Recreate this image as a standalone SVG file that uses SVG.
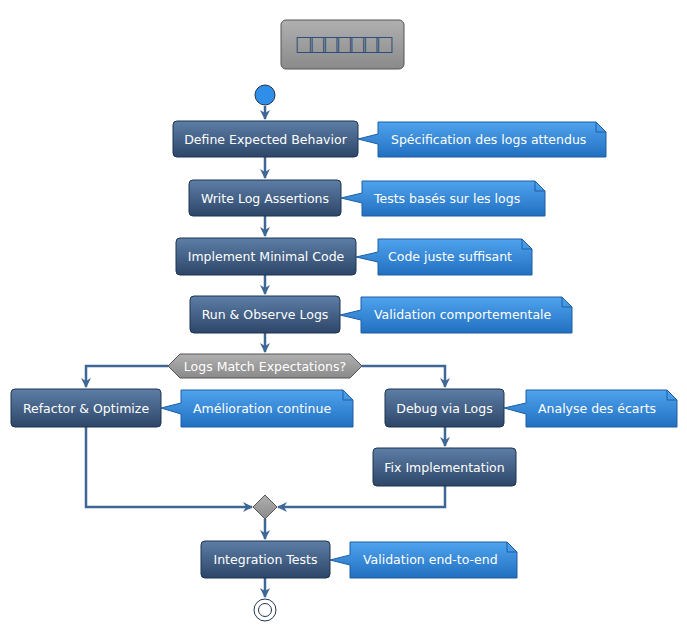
<svg xmlns="http://www.w3.org/2000/svg" width="687" height="633" viewBox="0 0 687 633">
<defs>
<linearGradient id="gb" x1="0" y1="0" x2="0" y2="1"><stop offset="0" stop-color="#5d7ea6"/><stop offset="1" stop-color="#2d4668"/></linearGradient>
<linearGradient id="gn" x1="0" y1="0" x2="0" y2="1"><stop offset="0" stop-color="#4fa3ee"/><stop offset="1" stop-color="#2170c0"/></linearGradient>
<linearGradient id="gg" x1="0" y1="0" x2="0" y2="1"><stop offset="0" stop-color="#b0b0b0"/><stop offset="1" stop-color="#8a8a8a"/></linearGradient>
<marker id="ar" viewBox="0 0 10 10" refX="9" refY="5" markerWidth="10" markerHeight="10" markerUnits="userSpaceOnUse" orient="auto"><path d="M0,0 L10,5 L0,10 L3,5 z" fill="#3f6796"/></marker>
<style>
.b{fill:url(#gb);stroke:#1f3550;stroke-width:1}
.n{fill:url(#gn);stroke:#1d5ea3;stroke-width:1}
.t{font-family:"DejaVu Sans",Verdana,sans-serif;font-size:12.5px;fill:#fff;text-anchor:middle}
.tn{font-family:"DejaVu Sans",Verdana,sans-serif;font-size:12.5px;fill:#fff}
.l{fill:none;stroke:#3f6796;stroke-width:2.5}
</style>
</defs>
<g id="title"><rect x="281" y="20" width="123" height="49" rx="5" fill="url(#gg)" stroke="#555"/><text x="343" y="53" font-family="'Liberation Sans',sans-serif" font-size="27" fill="#2f4f7a" text-anchor="middle" letter-spacing="-3">□□□□□□□</text></g>
<g id="connectors">
<path class="l" d="M265,106 V119" marker-end="url(#ar)"/>
<path class="l" d="M265,157 V178" marker-end="url(#ar)"/>
<path class="l" d="M265,216 V236" marker-end="url(#ar)"/>
<path class="l" d="M265,275 V294" marker-end="url(#ar)"/>
<path class="l" d="M265,333 V352" marker-end="url(#ar)"/>
<path class="l" d="M168,366 H86 V387" marker-end="url(#ar)"/>
<path class="l" d="M362,366 H445 V387" marker-end="url(#ar)"/>
<path class="l" d="M445,427 V446" marker-end="url(#ar)"/>
<path class="l" d="M86,427 V507 H252" marker-end="url(#ar)"/>
<path class="l" d="M445,486 V507 H278" marker-end="url(#ar)"/>
<path class="l" d="M265,519 V539" marker-end="url(#ar)"/>
<path class="l" d="M265,578 V597" marker-end="url(#ar)"/>
</g>
<g id="start"><circle cx="265" cy="95" r="10" fill="#2f8ee8" stroke="#1f3550"/></g>
<g id="n1"><rect class="b" x="173" y="121" width="185" height="36" rx="4"/><text class="t" x="265.5" y="144">Define Expected Behavior</text></g>
<g id="c1"><path class="n" d="M378,122 H596 L606,132 V157 H378 V144 L358,139 L378,134 Z"/><path d="M596,122 V132 H606" fill="none" stroke="#1d5ea3"/><text class="tn" x="391" y="144">Spécification des logs attendus</text></g>
<g id="n2"><rect class="b" x="189" y="180" width="152" height="36" rx="4"/><text class="t" x="265" y="203">Write Log Assertions</text></g>
<g id="c2"><path class="n" d="M362,181 H535 L545,191 V216 H362 V203 L341,198 L362,193 Z"/><path d="M535,181 V191 H545" fill="none" stroke="#1d5ea3"/><text class="tn" x="374" y="203">Tests basés sur les logs</text></g>
<g id="n3"><rect class="b" x="176" y="238" width="180" height="37" rx="4"/><text class="t" x="266" y="261">Implement Minimal Code</text></g>
<g id="c3"><path class="n" d="M378,239 H522 L532,249 V275 H378 V262 L356,257 L378,252 Z"/><path d="M522,239 V249 H532" fill="none" stroke="#1d5ea3"/><text class="tn" x="388" y="261">Code juste suffisant</text></g>
<g id="n4"><rect class="b" x="190" y="296" width="150" height="37" rx="4"/><text class="t" x="265" y="319">Run &amp; Observe Logs</text></g>
<g id="c4"><path class="n" d="M361,297 H562 L572,307 V333 H361 V320 L340,315 L361,310 Z"/><path d="M562,297 V307 H572" fill="none" stroke="#1d5ea3"/><text class="tn" x="374" y="319">Validation comportementale</text></g>
<g id="d1"><path d="M180,354 H350 L362,366 L350,378 H180 L168,366 Z" fill="url(#gg)" stroke="#555"/><text class="t" x="265" y="371">Logs Match Expectations?</text></g>
<g id="n5"><rect class="b" x="11" y="389" width="150" height="38" rx="4"/><text class="t" x="86" y="413">Refactor &amp; Optimize</text></g>
<g id="c5"><path class="n" d="M181,390 H343 L353,400 V427 H181 V414 L161,408 L181,403 Z"/><path d="M343,390 V400 H353" fill="none" stroke="#1d5ea3"/><text class="tn" x="193" y="413">Amélioration continue</text></g>
<g id="n6"><rect class="b" x="385" y="389" width="119" height="38" rx="4"/><text class="t" x="444.5" y="413">Debug via Logs</text></g>
<g id="c6"><path class="n" d="M526,390 H667 L677,400 V427 H526 V414 L504,408 L526,403 Z"/><path d="M667,390 V400 H677" fill="none" stroke="#1d5ea3"/><text class="tn" x="538" y="413">Analyse des écarts</text></g>
<g id="n7"><rect class="b" x="373" y="448" width="143" height="38" rx="4"/><text class="t" x="444.5" y="472">Fix Implementation</text></g>
<g id="merge"><path d="M265,495 L277,507 L265,519 L253,507 Z" fill="url(#gg)" stroke="#555"/></g>
<g id="n8"><rect class="b" x="201" y="541" width="129" height="37" rx="4"/><text class="t" x="265.5" y="564">Integration Tests</text></g>
<g id="c8"><path class="n" d="M350,542 H507 L517,552 V578 H350 V565 L330,560 L350,555 Z"/><path d="M507,542 V552 H517" fill="none" stroke="#1d5ea3"/><text class="tn" x="363" y="564">Validation end-to-end</text></g>
<g id="end"><circle cx="265" cy="610" r="11" fill="#fff" stroke="#1f3550"/><circle cx="265" cy="610" r="6.5" fill="#fff" stroke="#1f3550"/></g>
</svg>
